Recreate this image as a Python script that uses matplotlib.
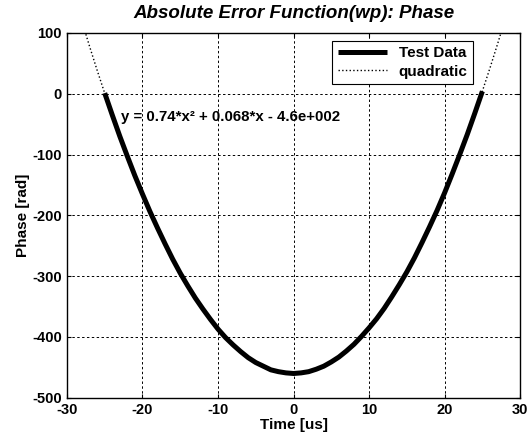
import numpy as np
import matplotlib
matplotlib.use('Agg')
import matplotlib.pyplot as plt

# Test Data (1 us steps)
tiempo = list(range(-25, 26))
fase = [1, -35, -70, -103, -135, -165, -194, -221, -247, -272,
        -295, -316, -336, -354, -371, -387, -401, -413, -424, -434,
        -442, -448, -454, -457, -459, -460, -459, -457, -453, -448,
        -441, -433, -423, -412, -399, -385, -370, -353, -334, -314,
        -293, -270, -245, -219, -192, -163, -132, -100, -67, -32, 4]

# quadratic fit coefficients (as printed on the chart)
coef_fit = [0.74, 0.068, -460]
x_fit = np.linspace(-30, 30, 241)

x_ticks = [-30, -20, -10, 0, 10, 20, 30]
y_ticks = [-500, -400, -300, -200, -100, 0, 100]

plt.rcParams['font.family'] = ['Liberation Sans', 'DejaVu Sans']
plt.rcParams['axes.unicode_minus'] = False

fig = plt.figure(figsize=(5.27, 4.44), dpi=100)
ax = fig.add_axes([0.127, 0.104, 0.860, 0.822])

ax.plot(tiempo, fase, '-', color='black', linewidth=3.6, label='Test Data',
        solid_capstyle='butt')
ax.plot(x_fit, np.polyval(coef_fit, x_fit), ':', color='black',
        linewidth=1.0, label='quadratic')

ax.set_xlim(-30, 30)
ax.set_ylim(-500, 100)
ax.set_xticks(x_ticks)
ax.set_yticks(y_ticks)
ax.tick_params(direction='in', length=3, top=True, right=True,
               labelsize=10.5, width=0.8)
for lbl in ax.get_xticklabels() + ax.get_yticklabels():
    lbl.set_fontweight('bold')

ax.grid(True, color='black', linestyle=(0, (2.5, 2.5)), linewidth=0.7)
for s in ax.spines.values():
    s.set_linewidth(1.0)

ax.set_xlabel('Time [us]', fontsize=11, fontweight='bold', labelpad=1)
ax.set_ylabel('Phase [rad]', fontsize=11, fontweight='bold', labelpad=2)
ax.set_title('Absolute Error Function(wp): Phase', fontsize=13.5,
             fontweight='bold', style='italic', pad=11)

ax.text(-22.8, -38, 'y = 0.74*x\u00b2 + 0.068*x - 4.6e+002', fontsize=10.8,
        fontweight='bold', va='center', ha='left')

leg = ax.legend(loc='upper right', bbox_to_anchor=(0.896, 0.978),
                borderaxespad=0, prop={'weight': 'bold', 'size': 11},
                fancybox=False, framealpha=1, edgecolor='black',
                handlelength=3.2, borderpad=0.35, labelspacing=0.3)
leg.get_frame().set_linewidth(0.8)

plt.savefig('out.png', dpi=100)
plt.close()
